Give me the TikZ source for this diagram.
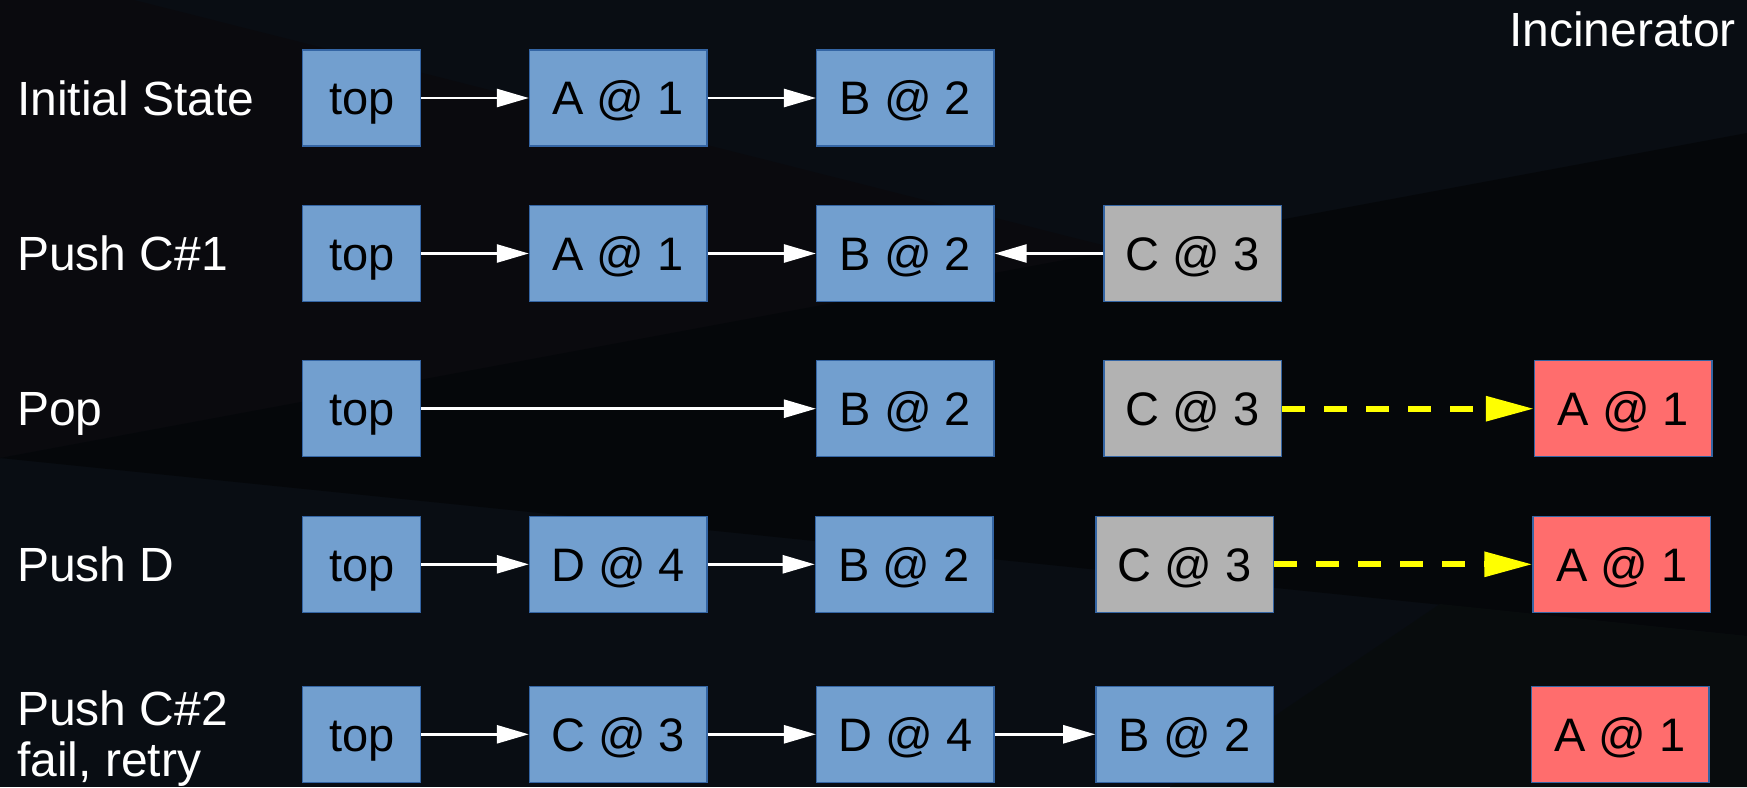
\documentclass[tikz,border=0pt]{standalone}
\usepackage{fontspec}
\setmainfont{Liberation Sans}
\usetikzlibrary{arrows.meta}

% palette
\definecolor{bgbase}{HTML}{090D13}
\definecolor{bgdark}{HTML}{0A0A0E}
\definecolor{bgwedge}{HTML}{05070A}
\definecolor{bggreen}{HTML}{080C0D}
\definecolor{liveblue}{HTML}{729FCF}
\definecolor{retiredgrey}{HTML}{B2B2B2}
\definecolor{burnred}{HTML}{FF6D6D}
\definecolor{cellborder}{HTML}{3465A4}
\definecolor{hazard}{HTML}{FFFF00}

\begin{document}
\begin{tikzpicture}[x=1pt,y=-1pt,
  every node/.style={font=\fontsize{47}{56}\selectfont},
  cell/.style={draw=cellborder, line width=1.3pt, minimum height=96pt,
    minimum width=177.5pt, inner sep=0pt, text height=33.7pt, text depth=0pt,
    text=black},
  live/.style={cell, fill=liveblue},
  ptr/.style={live, minimum width=118pt},
  retired/.style={cell, fill=retiredgrey},
  burn/.style={cell, fill=burnred},
  lbl/.style={text=white, inner sep=0pt, font=\fontsize{48}{56}\selectfont,
    text height=34.4pt, text depth=0pt, anchor=west},
  link/.style={draw=white, line width=2.6pt,
    -{Triangle[length=32pt,width=18pt]}},
  handoff/.style={draw=hazard, line width=6pt, dash pattern=on 23pt off 19pt,
    -{Triangle[length=48pt,width=24pt]}}
]
% backdrop
\useasboundingbox (0,0) rectangle (1747,787);
\fill[bgbase] (0,0) rectangle (1747,787);
\fill[bgdark] (0,0) -- (134,0) -- (1122,250) -- (0,458) -- cycle;
\fill[bgwedge] (0,458) -- (1747,133) -- (1747,636) -- cycle;
\fill[bggreen] (1440,604) -- (1747,636) -- (1747,787) -- (1170,787) -- cycle;

% captions
\node[lbl, anchor=east] (inc) at (1736,29.2) {Incinerator};
\node[lbl] (l1) at (17,98) {Initial State};
\node[lbl] (l2) at (17,253.5) {Push C\#1};
\node[lbl] (l3) at (17,408.7) {Pop};
\node[lbl] (l4) at (17,564.3) {Push D};
\node[lbl] (l5a) at (17,708.5) {Push C\#2};
\node[lbl] (l5b) at (17,758.8) {fail, retry};

% initial state
\node[ptr]  (t1) at (361.8,98) {top};
\node[live] (a1) at (618.2,98) {A @ 1};
\node[live] (b1) at (905.3,98) {B @ 2};
\draw[link] (t1) -- (a1);
\draw[link] (a1) -- (b1);

% push C, first attempt
\node[ptr]     (t2) at (361.8,253.5) {top};
\node[live]    (a2) at (618.2,253.5) {A @ 1};
\node[live]    (b2) at (905.3,253.5) {B @ 2};
\node[retired] (c2) at (1192.7,253.5) {C @ 3};
\draw[link] (t2) -- (a2);
\draw[link] (a2) -- (b2);
\draw[link] (c2) -- (b2);

% pop
\node[ptr]     (t3) at (361.8,408.7) {top};
\node[live]    (b3) at (905.3,408.7) {B @ 2};
\node[retired] (c3) at (1192.7,408.7) {C @ 3};
\node[burn]    (x3) at (1623.3,408.7) {A @ 1};
\draw[link] (t3) -- (b3);
\draw[handoff] (c3) -- (x3);

% push D
\node[ptr]     (t4) at (361.8,564.3) {top};
\node[live]    (d4) at (618.2,564.3) {D @ 4};
\node[live]    (b4) at (904.1,564.3) {B @ 2};
\node[retired] (c4) at (1184.8,564.3) {C @ 3};
\node[burn]    (x4) at (1621.8,564.3) {A @ 1};
\draw[link] (t4) -- (d4);
\draw[link] (d4) -- (b4);
\draw[handoff] (c4) -- (x4);

% push C, second attempt
\node[ptr]  (t5) at (361.8,734.3) {top};
\node[live] (c5) at (618.2,734.3) {C @ 3};
\node[live] (d5) at (905.3,734.3) {D @ 4};
\node[live] (b5) at (1184.6,734.3) {B @ 2};
\node[burn] (x5) at (1620.2,734.3) {A @ 1};
\draw[link] (t5) -- (c5);
\draw[link] (c5) -- (d5);
\draw[link] (d5) -- (b5);
\end{tikzpicture}
\end{document}
